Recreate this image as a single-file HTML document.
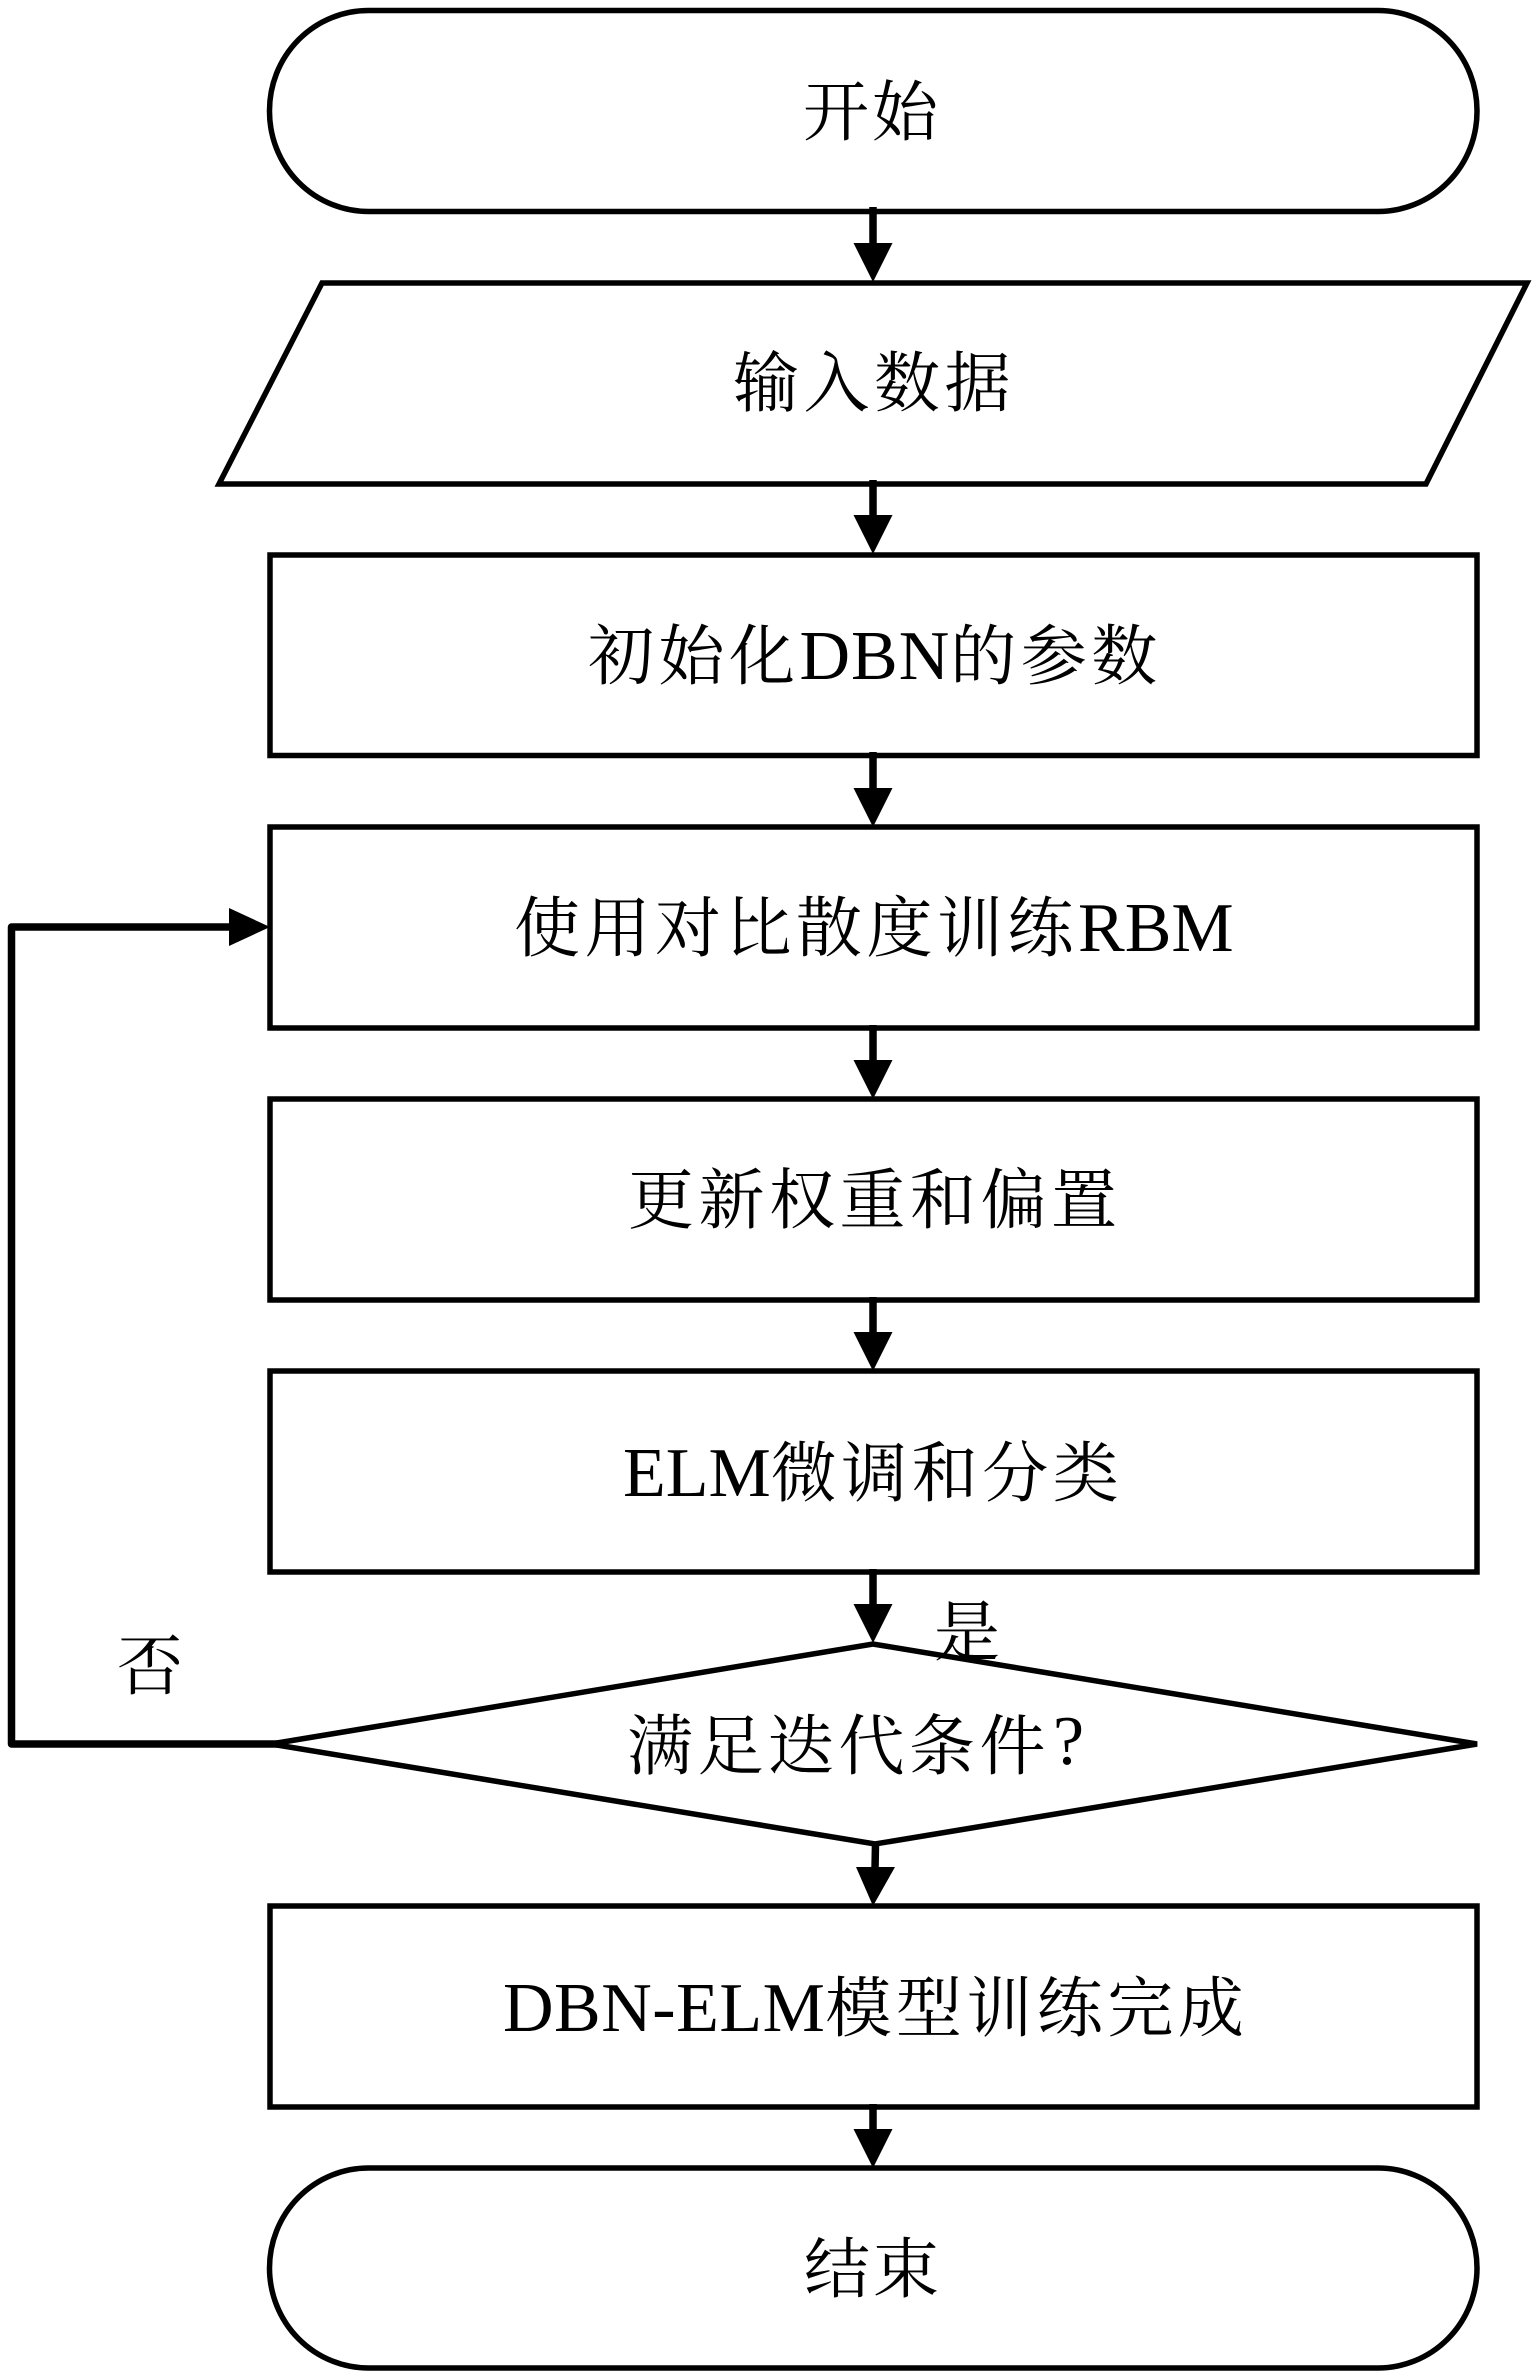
<!DOCTYPE html>
<html>
<head>
<meta charset="utf-8">
<style>
html,body{margin:0;padding:0;background:#fff;width:1540px;height:2380px;overflow:hidden}
svg{display:block}
text{font-family:"Noto Serif CJK SC","Liberation Serif",serif;font-size:66px;letter-spacing:4.5px;fill:#000;font-weight:400}
.e{font-family:"Liberation Serif",serif;font-size:70px;letter-spacing:0}
.s{fill:#fff;stroke:#000;stroke-width:5.5}
.l{fill:none;stroke:#000;stroke-width:7.5}
</style>
</head>
<body>
<svg width="1540" height="2380" viewBox="0 0 1540 2380" xmlns="http://www.w3.org/2000/svg">
<rect width="1540" height="2380" fill="#fff"/>

<!-- nodes -->
<rect class="s" x="269.5" y="10.5" width="1207.5" height="201" rx="99" ry="100"/>
<polygon class="s" points="322,283 1527,283 1426,484 219,484"/>
<rect class="s" x="270" y="555" width="1207" height="200.5"/>
<rect class="s" x="270" y="827" width="1207" height="201"/>
<rect class="s" x="270" y="1099" width="1207" height="201"/>
<rect class="s" x="270" y="1371" width="1207" height="201"/>
<polygon class="s" points="271,1744 873,1644 1477,1744 875,1844"/>
<rect class="s" x="270" y="1906" width="1207" height="201"/>
<rect class="s" x="269.5" y="2168" width="1207.5" height="200" rx="99" ry="100"/>

<!-- connectors -->
<path class="l" d="M873 207V245"/><polygon points="853.5,243 892.5,243 873,282"/>
<path class="l" d="M873 480V517"/><polygon points="853.5,515 892.5,515 873,554"/>
<path class="l" d="M873 752V789"/><polygon points="853.5,788 892.5,788 873,827"/>
<path class="l" d="M873 1025V1061"/><polygon points="853.5,1060 892.5,1060 873,1099"/>
<path class="l" d="M873 1297V1333"/><polygon points="853.5,1332 892.5,1332 873,1371"/>
<path class="l" d="M873 1569V1606"/><polygon points="853.5,1604 892.5,1604 873,1643"/>
<path class="l" d="M875.5 1844L875 1869"/><polygon points="856,1867 895,1867 873,1906"/>
<path class="l" d="M873 2104V2131"/><polygon points="853.5,2129 892.5,2129 873,2168"/>
<path class="l" stroke-linejoin="round" d="M278 1744H11.5V927H232"/><polygon points="229,908 229,946 270,927"/>

<!-- labels -->
<text x="803" y="135" style="letter-spacing:3px">开始</text>
<text x="733" y="406">输入数据</text>
<text x="588" y="679">初始化<tspan class="e" style="letter-spacing:1px">DBN</tspan>的参数</text>
<text x="514" y="951">使用对比散度训练<tspan class="e">RBM</tspan></text>
<text x="628" y="1223">更新权重和偏置</text>
<text x="623" y="1496"><tspan class="e">ELM</tspan>微调和分类</text>
<text x="627" y="1769">满足迭代条件<tspan class="e" dx="3" dy="-5">?</tspan></text>
<text x="503" y="2031"><tspan class="e" style="letter-spacing:.5px">DBN-ELM</tspan>模型训练完成</text>
<text x="804" y="2292" style="letter-spacing:3px">结束</text>
<text x="934" y="1655">是</text>
<text x="117" y="1689">否</text>
</svg>
</body>
</html>
